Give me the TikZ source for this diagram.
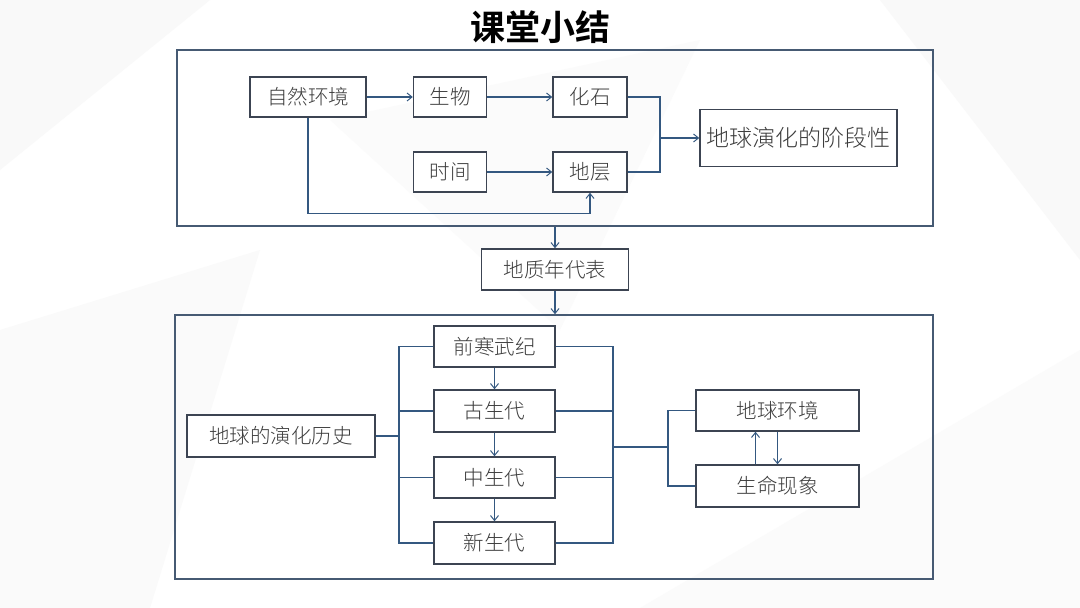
\documentclass[tikz,border=0pt]{standalone}
\usepackage{fontspec}
\usepackage{xcolor}
\IfFontExistsTF{Noto Sans CJK SC Light}
  {\setmainfont{Noto Sans CJK SC Light}}
  {\setmainfont{Noto Sans CJK SC}}
\newfontfamily\titlefont{Noto Sans CJK SC Bold}
\usetikzlibrary{arrows.meta}

\definecolor{framecol}{RGB}{70,90,115}
\definecolor{linecol}{RGB}{52,88,128}
\definecolor{boxcol}{RGB}{60,68,82}
\definecolor{textcol}{RGB}{60,60,60}

\tikzset{
  box/.style={draw=boxcol, line width=1.4pt, fill=white, text=textcol,
    inner sep=0pt, font=\fontsize{20.5}{24}\selectfont},
  frame/.style={draw=framecol, line width=1.4pt, inner sep=0pt},
  conn/.style={draw=linecol, line width=1.4pt},
  arr/.style={conn, -{Straight Barb[length=5pt,width=8pt,line width=1pt]}},
}

\begin{document}
\begin{tikzpicture}[x=1pt,y=-1pt]
\useasboundingbox (0,0) rectangle (1080,608);
\fill[white] (0,0) rectangle (1080,608);
%background polygons
\fill[gray!5] (0,0) -- (210,0) -- (0,170) -- cycle;
\fill[gray!4] (0,330) -- (260,250) -- (150,608) -- (0,608) -- cycle;
\fill[gray!5] (1080,0) -- (880,0) -- (1080,260) -- cycle;
\fill[gray!3] (640,608) -- (1080,350) -- (1080,608) -- cycle;
\fill[gray!3] (330,120) -- (700,40) -- (560,330) -- cycle;

\node[font=\titlefont\fontsize{35}{40}\selectfont] (title) at (540,27) {课堂小结};

%frames
\node[frame, minimum width=756, minimum height=176] (upper) at (555,138) {};
\node[frame, minimum width=758, minimum height=264] (lower) at (554,447) {};

%upper part
\node[box, minimum width=116, minimum height=40] (ziran) at (308,97) {自然环境};
\node[box, minimum width=73, minimum height=40] (shengwu) at (450,97) {生物};
\node[box, minimum width=74, minimum height=40] (huashi) at (590,97) {化石};
\node[box, minimum width=73, minimum height=40] (shijian) at (450,172) {时间};
\node[box, minimum width=74, minimum height=40] (diceng) at (590,172) {地层};
\node[box, minimum width=197, minimum height=57, font=\fontsize{23}{27}\selectfont] (jieduan) at (798.5,138) {地球演化的阶段性};
\coordinate (j1) at (660,138);

\draw[arr] (ziran) -- (shengwu);
\draw[arr] (shengwu) -- (huashi);
\draw[arr] (shijian) -- (diceng);
\draw[conn] (huashi.east) -| (j1) |- (diceng.east);
\draw[arr] (j1) -- (jieduan.west);
\draw[arr] (ziran.south) -- ++(0,96) -| (diceng.south);

%middle
\node[box, minimum width=147, minimum height=41] (nianbiao) at (555,269.5) {地质年代表};
\draw[arr] (upper.south) -- (nianbiao.north);
\draw[arr] (nianbiao.south) -- (nianbiao.south |- lower.north);

%lower part
\node[box, minimum width=188, minimum height=42] (lishi) at (281,436) {地球的演化历史};
\node[box, minimum width=121, minimum height=41] (qhw) at (494.5,346.5) {前寒武纪};
\node[box, minimum width=121, minimum height=42] (gsd) at (494.5,411) {古生代};
\node[box, minimum width=121, minimum height=41] (zsd) at (494.5,477.5) {中生代};
\node[box, minimum width=121, minimum height=42] (xsd) at (494.5,543) {新生代};
\node[box, minimum width=163, minimum height=41] (huanjing) at (777.5,410.5) {地球环境};
\node[box, minimum width=163, minimum height=42] (xianxiang) at (777.5,486) {生命现象};
\coordinate (lb) at (399,436);
\coordinate (rb) at (613,447);
\coordinate (j2) at (668,447);

\draw[conn] (lishi.east) -- (lb);
\draw[conn] (qhw.west) -| (lb) |- (xsd.west);
\draw[conn] (gsd.west) -- (gsd.west -| lb);
\draw[conn] (zsd.west) -- (zsd.west -| lb);
\draw[conn] (qhw.east) -| (rb) |- (xsd.east);
\draw[conn] (gsd.east) -- (gsd.east -| rb);
\draw[conn] (zsd.east) -- (zsd.east -| rb);
\draw[conn] (rb) -- (j2);
\draw[conn] (huanjing.west) -| (j2) |- (xianxiang.west);

\draw[arr] (qhw) -- (gsd);
\draw[arr] (gsd) -- (zsd);
\draw[arr] (zsd) -- (xsd);
\draw[arr] ([xshift=-22]xianxiang.north) -- ([xshift=-22]huanjing.south);
\draw[arr] (huanjing.south) -- (xianxiang.north);
\end{tikzpicture}
\end{document}
